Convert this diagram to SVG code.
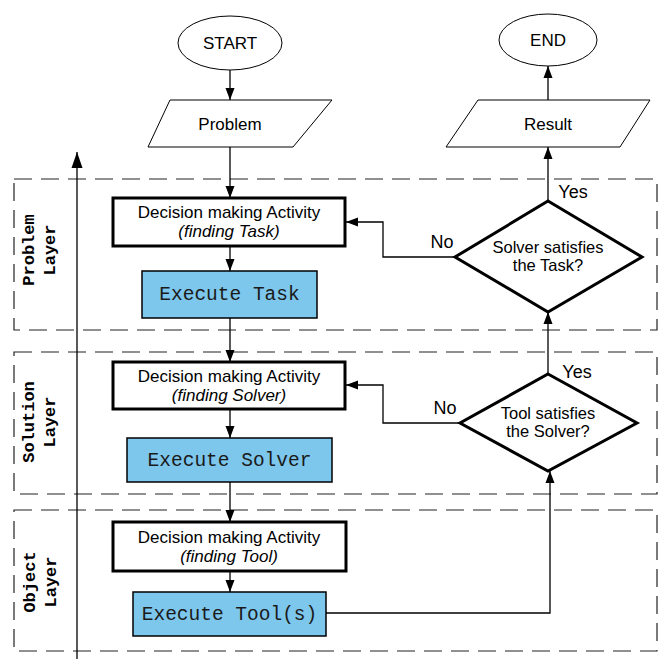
<svg xmlns="http://www.w3.org/2000/svg" width="660" height="659" viewBox="0 0 660 659">
<defs>
<style>
.t{font-family:"Liberation Sans",Arial,sans-serif;font-size:17px;fill:#000;text-anchor:middle}
.d{font-size:16.5px}
.it{font-style:italic}
.lbl{font-family:"Liberation Sans",Arial,sans-serif;font-size:18px;fill:#000;text-anchor:middle}
.mono{font-family:"Liberation Mono","Courier New",monospace;font-size:19.5px;fill:#1a1a1a;text-anchor:middle}
.layer{font-family:"Liberation Mono","Courier New",monospace;font-size:17px;font-weight:bold;fill:#000;text-anchor:middle}
.thin{fill:#fff;stroke:#000;stroke-width:1}
.dec{fill:#fff;stroke:#000;stroke-width:3}
.exe{fill:#7dc6ec;stroke:#000;stroke-width:1.5}
.dia{fill:#fff;stroke:#000;stroke-width:3}
.lane{fill:none;stroke:#222;stroke-width:1.2;stroke-dasharray:18 9}
.c{fill:none;stroke:#000;stroke-width:1.3}
</style>
<marker id="ah" markerUnits="userSpaceOnUse" markerWidth="12" markerHeight="12" viewBox="0 0 12 12" refX="12" refY="6" orient="auto">
<path d="M0,1.5 L12,6 L0,10.5 Z" fill="#000"/>
</marker>
<marker id="ahbig" markerUnits="userSpaceOnUse" markerWidth="16" markerHeight="12" viewBox="0 0 16 12" refX="16" refY="6" orient="auto">
<path d="M0,0.5 L16,6 L0,11.5 Z" fill="#000"/>
</marker>
</defs>
<rect width="660" height="659" fill="#fff"/>

<g id="lanes">
<rect id="lane-problem" class="lane" x="14" y="179" width="643" height="151"/>
<rect id="lane-solution" class="lane" x="14" y="352" width="643" height="142"/>
<rect id="lane-object" class="lane" x="14" y="510" width="643" height="141"/>
<text class="layer" transform="translate(34,250) rotate(-90)"><tspan x="0" y="0">Problem</tspan><tspan x="0" y="21">Layer</tspan></text>
<text class="layer" transform="translate(34,422) rotate(-90)"><tspan x="0" y="0">Solution</tspan><tspan x="0" y="21">Layer</tspan></text>
<text class="layer" transform="translate(35,582) rotate(-90)"><tspan x="0" y="0">Object</tspan><tspan x="0" y="21">Layer</tspan></text>
</g>

<g id="connectors">
<line class="c" x1="77" y1="659" x2="77" y2="152" marker-end="url(#ahbig)"/>
<line class="c" x1="230" y1="70" x2="230" y2="100" marker-end="url(#ah)"/>
<line class="c" x1="230" y1="147" x2="230" y2="198" marker-end="url(#ah)"/>
<line class="c" x1="230" y1="246" x2="230" y2="271" marker-end="url(#ah)"/>
<line class="c" x1="230" y1="318" x2="230" y2="362" marker-end="url(#ah)"/>
<line class="c" x1="230" y1="409" x2="230" y2="438" marker-end="url(#ah)"/>
<line class="c" x1="230" y1="482" x2="230" y2="522" marker-end="url(#ah)"/>
<line class="c" x1="230" y1="571" x2="230" y2="592" marker-end="url(#ah)"/>
<polyline class="c" points="326,613 550,613 550,471" marker-end="url(#ah)"/>
<line class="c" x1="548" y1="374" x2="548" y2="312" marker-end="url(#ah)"/>
<line class="c" x1="548" y1="201" x2="548" y2="147" marker-end="url(#ah)"/>
<line class="c" x1="548" y1="100" x2="548" y2="66" marker-end="url(#ah)"/>
<polyline class="c" points="455,257 383,257 383,222 346,222" marker-end="url(#ah)"/>
<polyline class="c" points="460,423 383,423 383,385 346,385" marker-end="url(#ah)"/>
<text class="lbl" x="442" y="248">No</text>
<text class="lbl" x="573" y="198">Yes</text>
<text class="lbl" x="445" y="414">No</text>
<text class="lbl" x="577" y="378">Yes</text>
</g>

<g id="start">
<ellipse class="thin" cx="230" cy="43" rx="52" ry="27"/>
<text class="t" x="230" y="49">START</text>
</g>
<g id="problem">
<polygon class="thin" points="170,100 332,100 293,147 148,147"/>
<text class="t" x="230" y="130">Problem</text>
</g>
<g id="end">
<ellipse class="thin" cx="548" cy="40" rx="49" ry="26"/>
<text class="t" x="548" y="46">END</text>
</g>
<g id="result">
<polygon class="thin" points="478,100 650,100 620,147 446,147"/>
<text class="t" x="548" y="130">Result</text>
</g>

<g id="decision-task">
<rect class="dec" x="113" y="198" width="232" height="48"/>
<text class="t" x="229" y="218">Decision making Activity</text>
<text class="t it" x="229" y="237">(finding Task)</text>
</g>
<g id="execute-task">
<rect class="exe" x="142" y="271" width="175" height="47"/>
<text class="mono" x="229.5" y="300">Execute Task</text>
</g>
<g id="decision-solver">
<rect class="dec" x="113" y="362" width="232" height="47"/>
<text class="t" x="229" y="382">Decision making Activity</text>
<text class="t it" x="229" y="401">(finding Solver)</text>
</g>
<g id="execute-solver">
<rect class="exe" x="127" y="438" width="205" height="44"/>
<text class="mono" x="229.5" y="466">Execute Solver</text>
</g>
<g id="decision-tool">
<rect class="dec" x="113" y="522" width="233" height="49"/>
<text class="t" x="229" y="543">Decision making Activity</text>
<text class="t it" x="229" y="562">(finding Tool)</text>
</g>
<g id="execute-tool">
<rect class="exe" x="133" y="592" width="193" height="44"/>
<text class="mono" x="229.5" y="620">Execute Tool(s)</text>
</g>

<g id="solver-satisfies">
<polygon class="dia" points="548,201 642,257 548,312 455,257"/>
<text class="t d" x="548" y="253">Solver satisfies</text>
<text class="t d" x="548" y="271">the Task?</text>
</g>
<g id="tool-satisfies">
<polygon class="dia" points="548,374 637,423 548,471 460,423"/>
<text class="t d" x="548" y="419">Tool satisfies</text>
<text class="t d" x="548" y="437">the Solver?</text>
</g>
</svg>
